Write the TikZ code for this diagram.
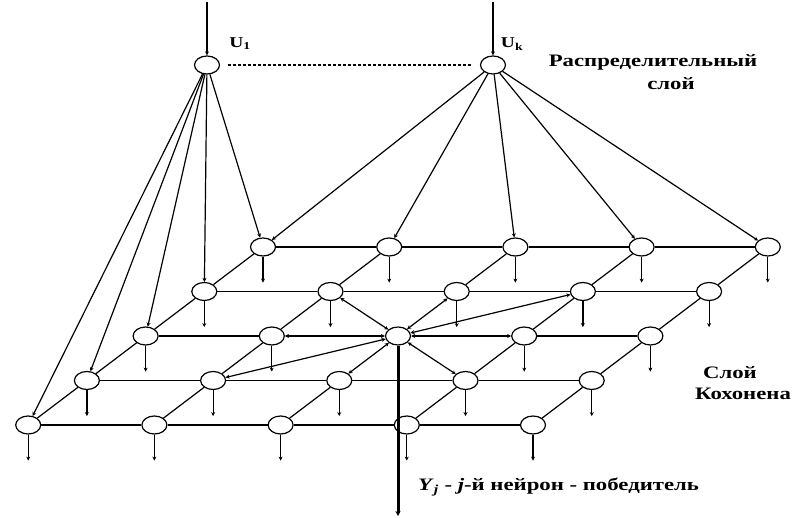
\documentclass[tikz,border=0pt]{standalone}
\usepackage{fontspec}
\setmainfont{Liberation Serif}[FakeStretch=1.3]
\usetikzlibrary{shapes.geometric,arrows.meta}
\begin{document}
\begin{tikzpicture}[x=1pt,y=-1pt,
  neuron/.style={draw,ellipse,minimum width=25pt,minimum height=18pt,inner sep=0pt,line width=1.2pt,fill=white},
  link/.style={line width=1.2pt},
  arr/.style={line width=1.2pt,-{Stealth[length=4pt,width=4pt]}},
  lat/.style={line width=1.2pt,{Stealth[length=4pt,width=4pt]}-{Stealth[length=4pt,width=4pt]}},
  lbl/.style={font=\bfseries\fontsize{17.5}{20}\selectfont,inner sep=0pt},
  ulbl/.style={font=\bfseries\fontsize{15}{17}\selectfont,inner sep=0pt}
]
\path[use as bounding box,fill=white] (0,0) rectangle (798,518);

% Kohonen layer nodes
\foreach \i in {0,...,4}{
  \foreach \j in {0,...,4}{
    \node[neuron] (n-\i-\j) at ({263+126.2*\j-58.7*\i},{247+44.5*\i}) {};
  }
}
% distribution layer
\node[neuron] (U1) at (207,65) {};
\node[neuron] (Uk) at (493,65) {};
\coordinate (in1) at (207,2);
\coordinate (ink) at (493,2);
\draw[arr] (in1) -- (U1);
\draw[arr] (ink) -- (Uk);
\path (U1.east) ++(8,0) coordinate (d1) (Uk.west) ++(-8,0) coordinate (d2);
\draw[line width=1.6pt,dash pattern=on 3pt off 2pt] (d1) -- (d2);

\node[ulbl] (lu1) at (240,44) {U\textsubscript{1}};
\node[ulbl] (luk) at (512,44) {U\textsubscript{k}};

% grid
\foreach \i in {0,...,4}{
  \foreach \j [evaluate=\j as \jn using int(\j+1)] in {0,...,3}{
    \ifnum\i=2 \ifnum\j=1 \else\ifnum\j=2 \else
      \draw[link] (n-\i-\j) -- (n-\i-\jn);
    \fi\fi
    \else
      \draw[link] (n-\i-\j) -- (n-\i-\jn);
    \fi
  }
}
\foreach \j in {0,...,4}{
  \foreach \i [evaluate=\i as \in using int(\i+1)] in {0,...,3}{
    \ifnum\j=2 \ifnum\i=1 \else\ifnum\i=2 \else
      \draw[link] (n-\i-\j) -- (n-\in-\j);
    \fi\fi
    \else
      \draw[link] (n-\i-\j) -- (n-\in-\j);
    \fi
  }
}
% outputs
\foreach \i in {0,...,4}{
  \foreach \j in {0,...,4}{
    \ifnum\i=2 \ifnum\j=2 \else
      \draw[arr] (n-\i-\j.south) -- ++(0,26);
    \fi
    \else
      \draw[arr] (n-\i-\j.south) -- ++(0,26);
    \fi
  }
}
% input connections
\foreach \i in {0,...,4}{ \draw[arr] (U1) -- (n-\i-0); }
\foreach \j in {0,...,4}{ \draw[arr] (Uk) -- (n-0-\j); }

% lateral connections of the winner
\foreach \a/\b in {1/1,1/2,1/3,2/1,2/3,3/1,3/2,3/3}{
  \draw[lat] (n-2-2) -- (n-\a-\b);
}
\coordinate (out) at (398,516);
\draw[line width=3pt,-{Stealth[length=5pt,width=5pt]}] (n-2-2.south) -- (out);

% labels
\node[lbl] (t1) at (653,62) {Распределительный};
\node[lbl] (t2) at (671,84) {слой};
\node[lbl] (t3) at (730,373) {Слой};
\node[lbl] (t4) at (743,394) {Кохонена};
\node[lbl,anchor=west] (t5) at (418,487) {\textit{Y}\textsubscript{\textit{j}} - \textit{j}-й нейрон - победитель};
\end{tikzpicture}
\end{document}
